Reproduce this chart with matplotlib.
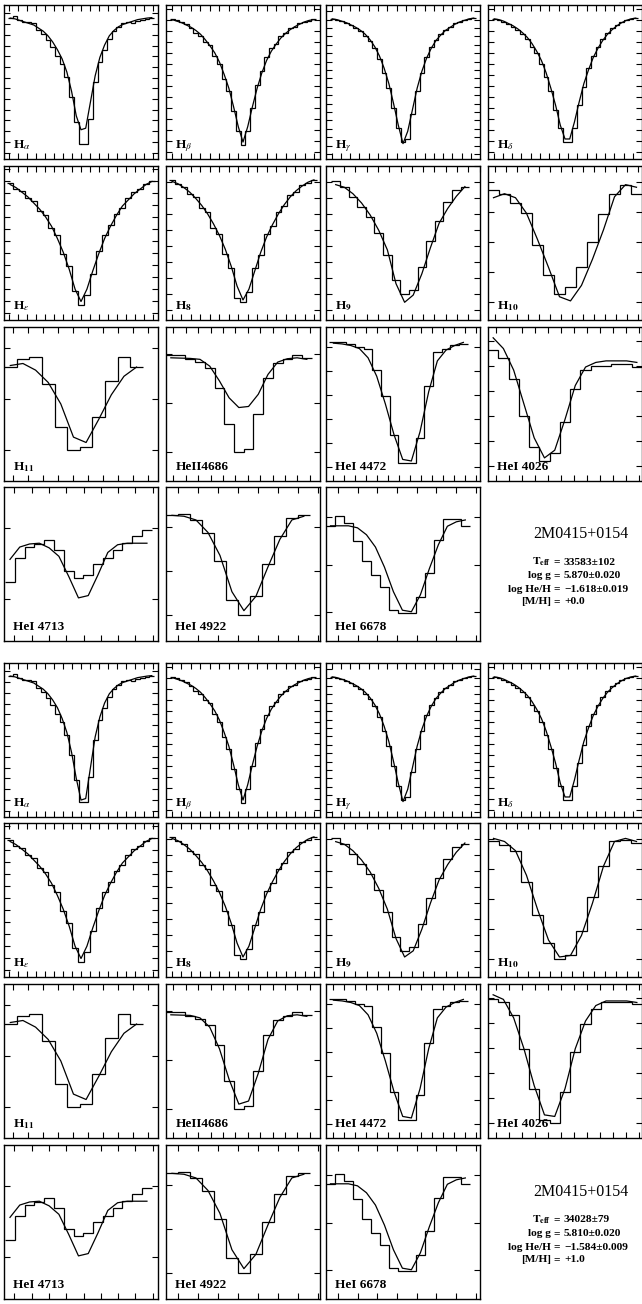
import numpy as np
import matplotlib.pyplot as plt

plt.rcParams['font.family'] = ['Liberation Serif', 'DejaVu Serif']
plt.rcParams['mathtext.fontset'] = 'stix'

# ---- observed spectra (normalised flux, binned) and model fits ----
# block a: [M/H] = +0.0   block b: [M/H] = +1.0
ha_obs = [0.915, 0.93, 0.905, 0.89, 0.89, 0.885, 0.84, 0.81, 0.77, 0.73, 0.67, 0.62, 0.53, 0.40, 0.24, 0.10,
          0.10, 0.26, 0.50, 0.63, 0.71, 0.78, 0.83, 0.86, 0.88, 0.89, 0.885, 0.895, 0.905, 0.91, 0.915]
ha_mod_a = [0.915, 0.91, 0.90, 0.89, 0.88, 0.87, 0.85, 0.83, 0.80, 0.76, 0.71, 0.65, 0.565, 0.44, 0.28, 0.19,
            0.20, 0.37, 0.54, 0.66, 0.74, 0.80, 0.835, 0.86, 0.875, 0.885, 0.895, 0.905, 0.91, 0.915, 0.918]
ha_mod_b = [0.915, 0.91, 0.90, 0.89, 0.88, 0.87, 0.85, 0.83, 0.80, 0.76, 0.71, 0.64, 0.55, 0.42, 0.25, 0.11,
            0.12, 0.32, 0.52, 0.65, 0.74, 0.80, 0.835, 0.86, 0.875, 0.885, 0.895, 0.905, 0.91, 0.915, 0.918]

hb_obs = [0.91, 0.90, 0.89, 0.875, 0.85, 0.82, 0.80, 0.76, 0.74, 0.67, 0.62, 0.52, 0.44, 0.31, 0.18, 0.09,
          0.18, 0.33, 0.48, 0.57, 0.66, 0.72, 0.75, 0.80, 0.82, 0.85, 0.86, 0.88, 0.89, 0.895, 0.91]
hb_mod = [0.905, 0.895, 0.885, 0.87, 0.855, 0.835, 0.81, 0.775, 0.735, 0.69, 0.63, 0.55, 0.46, 0.34, 0.21, 0.11,
          0.21, 0.34, 0.46, 0.56, 0.64, 0.70, 0.745, 0.785, 0.815, 0.84, 0.86, 0.875, 0.89, 0.90, 0.905]

hg_obs = [0.91, 0.90, 0.895, 0.885, 0.87, 0.85, 0.83, 0.80, 0.765, 0.72, 0.65, 0.56, 0.46, 0.33, 0.20, 0.11,
          0.13, 0.29, 0.44, 0.56, 0.66, 0.73, 0.77, 0.81, 0.84, 0.855, 0.88, 0.89, 0.905, 0.91, 0.915]
hg_mod = [0.91, 0.905, 0.895, 0.885, 0.87, 0.855, 0.835, 0.81, 0.775, 0.73, 0.67, 0.59, 0.49, 0.36, 0.22, 0.10,
          0.18, 0.32, 0.46, 0.57, 0.655, 0.72, 0.77, 0.805, 0.835, 0.855, 0.875, 0.89, 0.90, 0.91, 0.915]

hd_obs = [0.91, 0.90, 0.89, 0.875, 0.86, 0.84, 0.81, 0.78, 0.73, 0.69, 0.62, 0.53, 0.44, 0.32, 0.20, 0.11,
          0.11, 0.20, 0.35, 0.47, 0.59, 0.67, 0.73, 0.78, 0.82, 0.85, 0.87, 0.89, 0.90, 0.91, 0.915]
hd_mod = [0.91, 0.905, 0.895, 0.88, 0.865, 0.845, 0.82, 0.79, 0.75, 0.70, 0.64, 0.56, 0.46, 0.35, 0.22, 0.13,
          0.13, 0.24, 0.37, 0.49, 0.58, 0.66, 0.72, 0.77, 0.81, 0.84, 0.865, 0.885, 0.90, 0.91, 0.915]

he_obs = [0.89, 0.85, 0.835, 0.79, 0.77, 0.71, 0.68, 0.60, 0.55, 0.43, 0.35, 0.19, 0.10, 0.16, 0.30, 0.45,
          0.55, 0.62, 0.69, 0.73, 0.79, 0.83, 0.85, 0.88, 0.90]
he_mod = [0.88, 0.86, 0.83, 0.80, 0.76, 0.72, 0.67, 0.61, 0.53, 0.44, 0.33, 0.20, 0.12, 0.20, 0.32, 0.43,
          0.53, 0.61, 0.68, 0.74, 0.78, 0.82, 0.85, 0.88, 0.90]

h8_obs = [0.91, 0.88, 0.865, 0.82, 0.80, 0.73, 0.70, 0.60, 0.56, 0.43, 0.34, 0.14, 0.12, 0.18, 0.34, 0.42,
          0.56, 0.61, 0.70, 0.74, 0.81, 0.83, 0.875, 0.89, 0.91]
h8_mod = [0.90, 0.885, 0.86, 0.83, 0.79, 0.745, 0.69, 0.625, 0.55, 0.46, 0.35, 0.22, 0.13, 0.20, 0.32, 0.44,
          0.54, 0.62, 0.69, 0.75, 0.80, 0.84, 0.87, 0.895, 0.91]

h9_obs = [0.904, 0.866, 0.80, 0.735, 0.667, 0.565, 0.42, 0.257, 0.166, 0.193, 0.342, 0.512, 0.644, 0.766,
          0.845, 0.866]
h9_mod_a = [0.879, 0.862, 0.82, 0.76, 0.682, 0.582, 0.455, 0.236, 0.115, 0.162, 0.30, 0.47, 0.628, 0.724,
            0.803, 0.866]
h9_mod_b = [0.879, 0.862, 0.82, 0.76, 0.682, 0.575, 0.44, 0.25, 0.13, 0.17, 0.31, 0.48, 0.63, 0.73,
            0.81, 0.87]

h10_obs_a = [0.845, 0.82, 0.76, 0.697, 0.484, 0.29, 0.172, 0.215, 0.342, 0.505, 0.688, 0.82, 0.879, 0.82]
h10_mod_a = [0.794, 0.82, 0.794, 0.693, 0.523, 0.342, 0.151, 0.124, 0.225, 0.395, 0.586, 0.80, 0.879, 0.862]
h10_obs_b = [0.88, 0.86, 0.82, 0.62, 0.40, 0.22, 0.12, 0.14, 0.30, 0.52, 0.72, 0.88, 0.89, 0.87]
h10_mod_b = [0.90, 0.88, 0.82, 0.66, 0.44, 0.24, 0.13, 0.14, 0.27, 0.48, 0.72, 0.88, 0.90, 0.88]

h11_obs = [0.742, 0.794, 0.806, 0.628, 0.348, 0.202, 0.224, 0.413, 0.65, 0.806, 0.742]
h11_mod = [0.75, 0.763, 0.72, 0.64, 0.50, 0.285, 0.25, 0.40, 0.56, 0.68, 0.74]

he4686_obs = [0.82, 0.82, 0.794, 0.772, 0.735, 0.606, 0.37, 0.19, 0.209, 0.434, 0.671, 0.768, 0.794, 0.815, 0.80]
he4686_mod_a = [0.80, 0.798, 0.796, 0.79, 0.746, 0.65, 0.54, 0.477, 0.484, 0.563, 0.692, 0.772, 0.794, 0.80, 0.79]
he4686_mod_b = [0.80, 0.798, 0.796, 0.78, 0.72, 0.58, 0.38, 0.22, 0.24, 0.42, 0.64, 0.76, 0.794, 0.80, 0.79]

he4472_obs = [0.90, 0.90, 0.89, 0.87, 0.86, 0.72, 0.55, 0.30, 0.12, 0.12, 0.28, 0.62, 0.84, 0.86, 0.88, 0.89]
he4472_mod = [0.895, 0.89, 0.88, 0.86, 0.80, 0.68, 0.50, 0.30, 0.14, 0.13, 0.32, 0.58, 0.78, 0.85, 0.88, 0.90]

he4026_obs_a = [0.85, 0.80, 0.66, 0.42, 0.22, 0.13, 0.18, 0.38, 0.60, 0.72, 0.75, 0.75, 0.76, 0.76, 0.74]
he4026_mod_a = [0.93, 0.86, 0.72, 0.50, 0.28, 0.15, 0.20, 0.40, 0.62, 0.74, 0.77, 0.78, 0.78, 0.78, 0.77]
he4026_obs_b = [0.90, 0.88, 0.80, 0.58, 0.32, 0.12, 0.10, 0.30, 0.56, 0.74, 0.84, 0.88, 0.88, 0.88, 0.87]
he4026_mod_b = [0.93, 0.90, 0.78, 0.58, 0.34, 0.15, 0.14, 0.32, 0.58, 0.76, 0.86, 0.89, 0.89, 0.89, 0.88]

he4713_obs = [0.385, 0.54, 0.61, 0.63, 0.656, 0.588, 0.453, 0.41, 0.43, 0.498, 0.54, 0.588, 0.635, 0.68, 0.72]
he4713_mod = [0.53, 0.61, 0.63, 0.635, 0.605, 0.55, 0.42, 0.28, 0.295, 0.43, 0.575, 0.625, 0.635, 0.635, 0.635]

he4922_obs = [0.816, 0.827, 0.784, 0.70, 0.52, 0.267, 0.17, 0.295, 0.50, 0.684, 0.80, 0.816]
he4922_mod = [0.816, 0.81, 0.786, 0.705, 0.556, 0.32, 0.197, 0.29, 0.48, 0.66, 0.786, 0.81]

he6678_obs = [0.748, 0.812, 0.765, 0.652, 0.519, 0.427, 0.348, 0.20, 0.18, 0.185, 0.288, 0.44, 0.656, 0.795,
              0.795, 0.748]
he6678_mod = [0.748, 0.748, 0.748, 0.735, 0.69, 0.61, 0.48, 0.32, 0.20, 0.19, 0.30, 0.47, 0.625, 0.745,
              0.774, 0.786]

# wavelength window of the binned data inside each panel (0..1 of panel span)
balmer_span = (0.025, 0.975)
he_span = (0.02, 0.98)
h9_span = (0.035, 0.93)
h10_span = (0.0, 1.0)
h11_span = (0.0, 0.902)
he4686_span = (0.0, 0.946)
he4472_span = (0.02, 0.92)
he4026_span = (0.0, 1.0)
he4713_span = (0.007, 0.96)
he4922_span = (0.0, 0.934)
he6678_span = (0.0, 0.934)

labels = [r'H$_{\alpha}$', r'H$_{\beta}$', r'H$_{\gamma}$', r'H$_{\delta}$',
          r'H$_{\epsilon}$', r'H$_{\mathbf{8}}$', r'H$_{\mathbf{9}}$', r'H$_{\mathbf{10}}$',
          r'H$_{\mathbf{11}}$', 'HeII4686', 'HeI 4472', 'HeI 4026',
          'HeI 4713', 'HeI 4922', 'HeI 6678']

star = '2M0415+0154'
teff = ['33583\u00b1102', '34028\u00b179']
logg = ['5.870\u00b10.020', '5.810\u00b10.020']
loghe = ['\u22121.618\u00b10.019', '\u22121.584\u00b10.009']
metal = ['+0.0', '+1.0']

# tick spacing in pixels (x, y) for each panel
tick_px = [(9, 10.7), (9.5, 11), (9.3, 8.4), (9.3, 11),
           (9, 12), (9.5, 16), (11.3, 16), (11, 30),
           (15, 51), (12.4, 49), (11, 24), (13, 25),
           (17.3, 70.7), (20, 44), (19.7, 47.7)]

panels_a = [(ha_obs, ha_mod_a, balmer_span), (hb_obs, hb_mod, balmer_span), (hg_obs, hg_mod, balmer_span),
            (hd_obs, hd_mod, balmer_span), (he_obs, he_mod, he_span), (h8_obs, h8_mod, he_span),
            (h9_obs, h9_mod_a, h9_span), (h10_obs_a, h10_mod_a, h10_span), (h11_obs, h11_mod, h11_span),
            (he4686_obs, he4686_mod_a, he4686_span), (he4472_obs, he4472_mod, he4472_span),
            (he4026_obs_a, he4026_mod_a, he4026_span), (he4713_obs, he4713_mod, he4713_span),
            (he4922_obs, he4922_mod, he4922_span), (he6678_obs, he6678_mod, he6678_span)]
panels_b = list(panels_a)
panels_b[0] = (ha_obs, ha_mod_b, balmer_span)
panels_b[6] = (h9_obs, h9_mod_b, h9_span)
panels_b[7] = (h10_obs_b, h10_mod_b, h10_span)
panels_b[9] = (he4686_obs, he4686_mod_b, he4686_span)
panels_b[11] = (he4026_obs_b, he4026_mod_b, he4026_span)

W, H = 642, 1304
fig = plt.figure(figsize=(W / 100, H / 100), dpi=100)

col_x = [4, 166, 326, 488]
row_y = [[5, 166, 327, 487], [663, 823, 984, 1145]]
pw, ph = 154, 154


def draw_panel(ax, obs, mod, span, label, tpx):
    n = len(obs)
    edges = np.linspace(span[0], span[1], n + 1)
    centers = 0.5 * (edges[:-1] + edges[1:])
    ax.stairs(obs, edges, baseline=None, color='black', lw=0.9)
    ax.plot(centers, mod, color='black', lw=0.9)
    ax.set_xlim(0, 1)
    ax.set_ylim(0, 1)
    dx = tpx[0] / pw
    dy = tpx[1] / ph
    ax.set_xticks(np.arange(dx * 0.6, 1, dx))
    ax.set_yticks(np.arange(dy * 0.6, 1, dy))
    ax.tick_params(direction='in', top=True, right=True, length=4, width=0.8,
                   labelbottom=False, labelleft=False)
    for s in ax.spines.values():
        s.set_linewidth(1.0)
    ax.text(0.06, 0.07, label, transform=ax.transAxes, fontsize=9.5,
            fontweight='bold', ha='left', va='baseline')


for b, plist in enumerate([panels_a, panels_b]):
    for k, (obs, mod, span) in enumerate(plist):
        r, c = divmod(k, 4)
        left = col_x[c] / W
        bottom = 1 - (row_y[b][r] + ph) / H
        ax = fig.add_axes([left, bottom, pw / W, ph / H])
        draw_panel(ax, obs, mod, span, labels[k], tick_px[k])

    # text block in the empty panel
    top = row_y[b][3]
    fig.text(581 / W, 1 - (top + 47) / H, star, ha='center', va='center', fontsize=11.5)
    rows = [(r'$\mathbf{T_{eff}}$', teff[b], 75), ('log g', logg[b], 89),
            ('log He/H', loghe[b], 102), ('[M/H]', metal[b], 115)]
    for name, val, dy in rows:
        yy = 1 - (top + dy) / H
        fig.text(551 / W, yy, name, ha='right', va='center', fontsize=8.2, fontweight='bold')
        fig.text(557 / W, yy, '=', ha='center', va='center', fontsize=8.2, fontweight='bold')
        fig.text(564 / W, yy, val, ha='left', va='center', fontsize=8.2, fontweight='bold')

fig.savefig('out.png', dpi=100)
